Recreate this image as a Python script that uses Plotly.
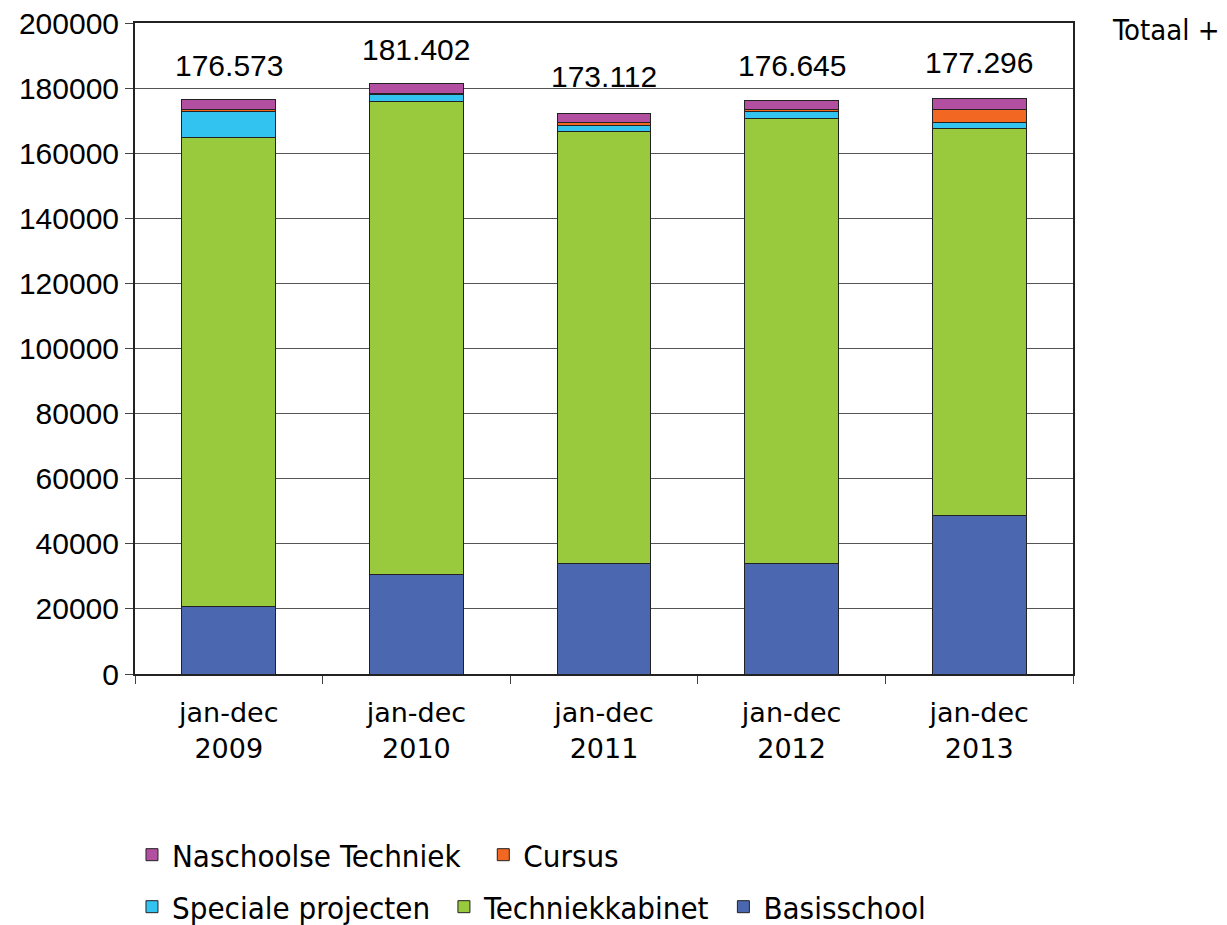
import plotly.graph_objects as go

categories = ["jan-dec<br>2009", "jan-dec<br>2010", "jan-dec<br>2011", "jan-dec<br>2012", "jan-dec<br>2013"]
basisschool = [20800, 30700, 33800, 33800, 48800]
techniekkabinet = [143900, 145300, 132900, 136900, 118800]
speciale_projecten = [8000, 2000, 1800, 2000, 1900]
cursus = [600, 300, 800, 800, 4000]
naschoolse_techniek = [3273, 3102, 2800, 2700, 3400]
totaal_labels = ["176.573", "181.402", "173.112", "176.645", "177.296"]
totaal_values = [176573, 181402, 173112, 176645, 177296]

NB = "\u00a0"
series = [
    ("Basisschool", basisschool, "#4A67AF", "legend2"),
    ("Techniekkabinet" + NB, techniekkabinet, "#99C93C", "legend2"),
    ("Speciale projecten" + NB, speciale_projecten, "#33C3F0", "legend2"),
    ("Cursus", cursus, "#F26722", "legend"),
    ("Naschoolse Techniek" + NB + NB, naschoolse_techniek, "#B34FA0", "legend"),
]

fig = go.Figure()
for name, vals, color, leg in series:
    fig.add_trace(go.Bar(
        x=categories, y=vals, name=name,
        marker=dict(color=color, line=dict(color="#222222", width=1)),
        legend=leg,
    ))

for c, t, lab in zip(categories, totaal_values, totaal_labels):
    fig.add_annotation(x=c, y=t, text=lab, showarrow=False, yanchor="middle", yshift=34,
                       font=dict(family="Liberation Sans, Arial", size=30, color="#000"))

fig.add_annotation(xref="paper", yref="paper", x=1.039, y=1.0, xanchor="left", yanchor="middle",
                   yshift=-7, text="Totaal +", showarrow=False,
                   font=dict(family="DejaVu Sans Condensed, DejaVu Sans", size=29, color="#000"))

legfont = dict(family="DejaVu Sans Condensed, DejaVu Sans", size=31, color="#000")
fig.update_layout(
    barmode="stack",
    bargap=0.5,
    width=1219, height=917,
    margin=dict(l=127, r=154, t=15, b=251),
    plot_bgcolor="white", paper_bgcolor="white",
    legend=dict(orientation="h", x=0.1017, xref="container", y=0.0763, yref="container",
                xanchor="left", yanchor="middle",
                traceorder="reversed", font=legfont, itemwidth=30, bgcolor="rgba(0,0,0,0)"),
    legend2=dict(orientation="h", x=0.1017, xref="container", y=0.0196, yref="container",
                 xanchor="left", yanchor="middle",
                 traceorder="reversed", font=legfont, itemwidth=30, bgcolor="rgba(0,0,0,0)"),
    xaxis=dict(
        automargin=False,
        showline=True, linecolor="#222", linewidth=2, mirror=True,
        tickfont=dict(family="DejaVu Sans", size=27, color="#000"),
        ticks="outside", ticklen=8, tickcolor="#444", tickson="boundaries",
        ticklabelstandoff=14,
    ),
    yaxis=dict(
        automargin=False,
        range=[0, 200000], dtick=20000,
        showline=True, linecolor="#222", linewidth=2, mirror=True,
        showgrid=True, gridcolor="#555", gridwidth=1,
        ticks="outside", ticklen=8, tickcolor="#444",
        tickfont=dict(family="Liberation Sans, Arial", size=30, color="#000"),
        tickformat="d", ticklabeloverflow="allow",
    ),
)

fig.write_html("out.html")
